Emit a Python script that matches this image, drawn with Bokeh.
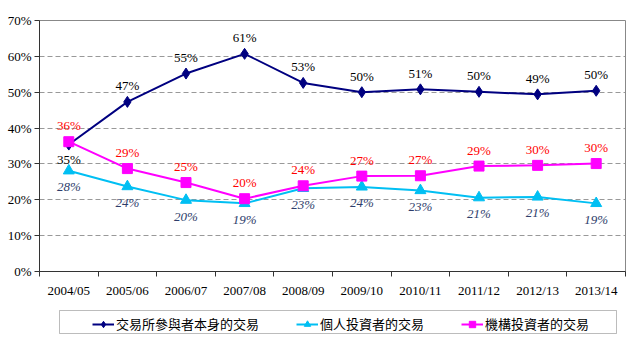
from bokeh.plotting import figure
from bokeh.layouts import column
from bokeh.models import (Range1d, FixedTicker, PrintfTickFormatter, ColumnDataSource,
                          LabelSet, Legend, LegendItem, BoxAnnotation)
from bokeh.embed import file_html
from bokeh.resources import INLINE

categories = ["2004/05", "2005/06", "2006/07", "2007/08", "2008/09",
              "2009/10", "2010/11", "2011/12", "2012/13", "2013/14"]
exchange_participants = [35.4, 47.3, 55.2, 60.7, 52.6, 50.0, 50.8, 50.1, 49.4, 50.4]
retail_investors = [28.1, 23.7, 19.9, 19.0, 23.2, 23.6, 22.6, 20.6, 20.8, 19.0]
institutional_investors = [36.2, 28.7, 24.8, 20.3, 23.9, 26.6, 26.7, 29.4, 29.6, 30.1]
series_names = ["交易所參與者本身的交易", "個人投資者的交易", "機構投資者的交易"]
y_ticks = [0, 10, 20, 30, 40, 50, 60, 70]

SERIF = "Times New Roman"
n = len(categories)
xs = [i + 0.5 for i in range(n)]

NAVY, CYAN, MAGENTA = "#000080", "#00BFF3", "#FF00FF"
LEFT, RIGHT, W = 39, 5, 630

p = figure(width=W, height=300, min_border_left=LEFT, min_border_right=RIGHT,
           min_border_top=20, min_border_bottom=29,
           x_range=Range1d(0, n), y_range=Range1d(0, 70),
           output_backend="svg", toolbar_location=None)
p.background_fill_color = "white"
p.border_fill_color = "white"
p.outline_line_color = "#888888"
p.outline_line_width = 1

# axes
p.xaxis.ticker = FixedTicker(ticks=xs, minor_ticks=list(range(n + 1)))
p.xaxis.major_label_overrides = {x: c for x, c in zip(xs, categories)}
p.xaxis.major_tick_out = 0
p.xaxis.major_tick_in = 0
p.xaxis.minor_tick_out = 5
p.xaxis.minor_tick_in = 0
p.xaxis.minor_tick_line_color = "#333333"
p.xaxis.axis_line_color = "#333333"
p.xaxis.major_label_standoff = 6
p.yaxis.ticker = FixedTicker(ticks=y_ticks, minor_ticks=[])
p.yaxis.formatter = PrintfTickFormatter(format="%d%%")
p.yaxis.major_tick_out = 5
p.yaxis.major_tick_in = 0
p.yaxis.major_tick_line_color = "#333333"
p.yaxis.minor_tick_line_color = None
p.yaxis.axis_line_color = "#333333"
p.yaxis.major_label_standoff = 3
for ax in (p.xaxis, p.yaxis):
    ax.major_label_text_font = SERIF
    ax.major_label_text_font_size = "13px"
    ax.major_label_text_color = "black"

p.xgrid.grid_line_color = None
p.ygrid.grid_line_color = "#999999"
p.ygrid.grid_line_dash = "5 3"
p.ygrid.grid_line_width = 1

src = ColumnDataSource(dict(
    x=xs,
    ex=exchange_participants,
    re=retail_investors,
    ins=institutional_investors,
    ex_lbl=[f"{round(v)}%" for v in exchange_participants],
    re_lbl=[f"{round(v)}%" for v in retail_investors],
    ins_lbl=[f"{round(v)}%" for v in institutional_investors],
    ex_off=[-15 if i == 0 else 16 for i in range(n)],
))

styles = [("ex", NAVY, "diamond", 11), ("re", CYAN, "triangle", 11), ("ins", MAGENTA, "square", 10)]
for col, color, marker, size in styles:
    p.line("x", col, source=src, line_color=color, line_width=2)
    p.scatter("x", col, source=src, marker=marker, size=size, fill_color=color, line_color=color)

p.add_layout(LabelSet(x="x", y="ex", text="ex_lbl", source=src, y_offset="ex_off",
                      text_align="center", text_baseline="middle",
                      text_font=SERIF, text_font_size="13px", text_color="black"))
p.add_layout(LabelSet(x="x", y="ins", text="ins_lbl", source=src, y_offset=16,
                      text_align="center", text_baseline="middle",
                      text_font=SERIF, text_font_size="13px", text_color="#FF0000"))
p.add_layout(LabelSet(x="x", y="re", text="re_lbl", source=src, y_offset=-16,
                      text_align="center", text_baseline="middle",
                      text_font=SERIF, text_font_size="13px", text_font_style="italic",
                      text_color="#2E3D6B"))

# legend strip below the chart; its ranges are in strip pixels (y downward)
q = figure(width=W, height=50, min_border_left=LEFT, min_border_right=RIGHT,
           min_border_top=0, min_border_bottom=0,
           x_range=Range1d(LEFT, W - RIGHT), y_range=Range1d(50, 0),
           x_axis_location=None, y_axis_location=None,
           output_backend="svg", toolbar_location=None)
q.grid.visible = False
q.outline_line_color = None
q.add_layout(BoxAnnotation(left=59, right=616, top=10, bottom=33,
                           fill_color=None, line_color="#222222", line_width=1))
items = []
for (col, color, marker, size), name in zip(styles, series_names):
    ln = q.line("x", col, source=src, line_color=color, line_width=2)
    mk = q.scatter("x", col, source=src, marker=marker, size=size - 2,
                   fill_color=color, line_color=color)
    items.append(LegendItem(label=name, renderers=[ln, mk]))

legend = Legend(items=items, orientation="horizontal", location=(53, 17),
                label_text_font="Noto Sans CJK TC", label_text_font_size="13px",
                label_text_color="black",
                glyph_width=22, glyph_height=16, label_height=16, label_standoff=2,
                spacing=37, padding=3, margin=0,
                border_line_color=None, background_fill_alpha=0)
q.add_layout(legend)

open("out.html", "w").write(file_html(column(p, q, spacing=0), INLINE))
